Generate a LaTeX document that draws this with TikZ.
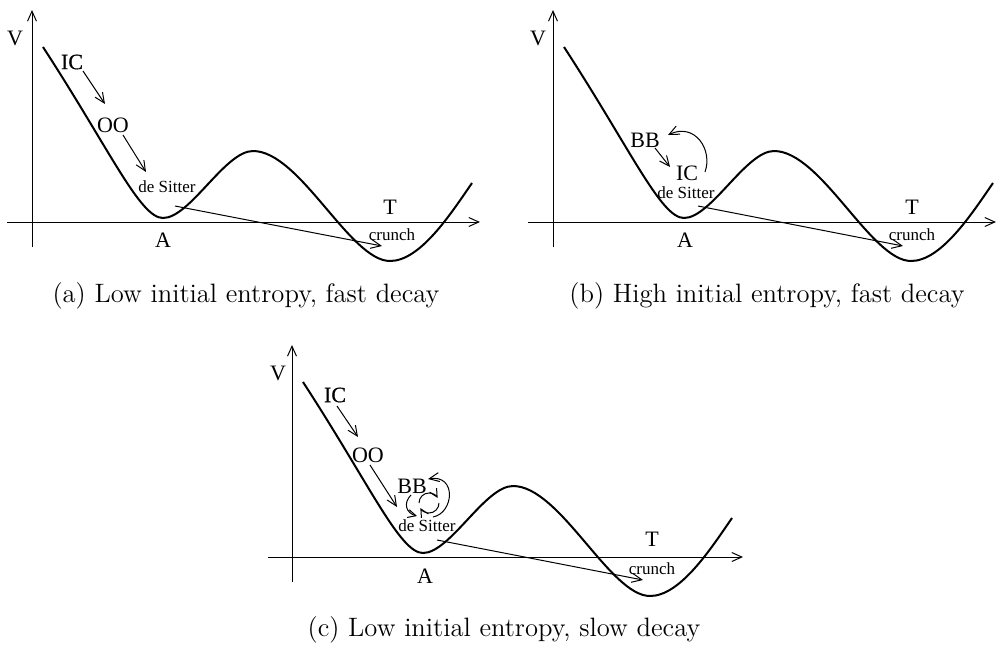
\documentclass[tikz,border=0pt]{standalone}
\usepackage{fontspec}
\newfontfamily\tms{Liberation Serif}
\newfontfamily\tmsb[FakeBold=0.6]{Liberation Serif}
\usetikzlibrary{arrows.meta,calc}
\begin{document}
\begin{tikzpicture}[x=0.5pt,y=-0.5pt,
  big/.style={font=\tms\fontsize{11}{13}\selectfont, inner sep=0pt},
  bigb/.style={font=\tmsb\fontsize{11}{13}\selectfont, inner sep=0pt},
  small/.style={font=\tms\fontsize{8.5}{10}\selectfont, inner sep=0pt},
  captext/.style={font=\fontsize{13.3}{15}\selectfont, inner sep=0pt},
  pot/.style={line width=1pt},
  axisline/.style={line width=0.5pt, -{Straight Barb[length=5pt,width=4.5pt]}},
  arr/.style={line width=0.5pt, -{Straight Barb[length=5pt,width=4.5pt]}},
  sarr/.style={line width=0.5pt, -{Straight Barb[length=4pt,width=4pt]}}]
\useasboundingbox (0,0) rectangle (997,644);
\newcommand\potential{%
  \draw[axisline] (32,247) -- (32,10);
  \draw[pot] (43,47) .. controls (110,150) and (140,218) .. (163,218)
    .. controls (190,218) and (225,151) .. (253,151)
    .. controls (300,151) and (350,261) .. (390,261)
    .. controls (420,261) and (450,215) .. (472,183);}
% ---------- panel (a)
\begin{scope}
  \potential
  \draw[axisline] (7,222) -- (480,222);
\end{scope}
\node[big] (aV) at (15,38) {V};
\node[bigb] (aIC) at (72,62) {IC};
\node[big] (aOO) at (113,125) {OO};
\node[small] (aDS) at (167,187) {de Sitter};
\node[big] (aT) at (390,207) {T};
\node[big] (aA) at (163,240) {A};
\node[small] (aCr) at (392,235) {crunch};
\draw[arr] ($(aIC)+(11,9)$) -- ($(aOO)+(-8,-21)$);
\draw[arr] ($(aOO)+(10,10)$) -- ($(aDS)+(-21,-15)$);
\draw[arr] ($(aDS)+(8,19)$) -- ($(aCr)+(-10,11)$);
\node[captext] (acap) at (246,296) {(a) Low initial entropy, fast decay};
% ---------- panel (b)
\begin{scope}[shift={(521,0)}]
  \potential
  \draw[axisline] (7,222) -- (475,222);
\end{scope}
\node[big] (bV) at (538,38) {V};
\node[big] (bBB) at (645,140) {BB};
\node[big] (bIC) at (687,173) {IC};
\node[small] (bDS) at (686,193) {de Sitter};
\node[big] (bT) at (912,207) {T};
\node[big] (bA) at (685,240) {A};
\node[small] (bCr) at (912,235) {crunch};
\draw[arr] ($(bBB)+(10,8)$) -- ($(bIC)+(-17,-6)$);
\draw[arr] ($(bIC)+(18,-1)$) .. controls (713,150) and (695,122) .. ($(bBB)+(23,-5)$);
\draw[arr] ($(bDS)+(12,13)$) -- ($(bCr)+(-9,11)$);
\node[captext] (bcap) at (767,296) {(b) High initial entropy, fast decay};
% ---------- panel (c)
\begin{scope}[shift={(260,335)}]
  \potential
  \draw[axisline] (8,222) -- (483,222);
\end{scope}
\node[big] (cV) at (278,373) {V};
\node[bigb] (cIC) at (335,395) {IC};
\node[big] (cOO) at (368,455) {OO};
\node[big] (cBB) at (412,486) {BB};
\node[small] (cDS) at (427,526) {de Sitter};
\node[big] (cT) at (652,539) {T};
\node[big] (cA) at (425,576) {A};
\node[small] (cCr) at (652,569) {crunch};
\draw[arr] ($(cIC)+(2,11)$) -- ($(cOO)+(-10,-18)$);
\draw[arr] ($(cOO)+(2,10)$) -- ($(cDS)+(-30,-19)$);
\draw[arr] ($(cDS)+(10,14)$) -- ($(cCr)+(-9,11)$);
\draw[sarr] ($(cBB)+(-1,9)$) .. controls ($(cBB)+(-9,17)$) and ($(cBB)+(-6,27)$) .. ($(cBB)+(5,30)$);
\draw[sarr] ($(cBB)+(17,17)+(180:10)$) arc[start angle=180, end angle=330, radius=10];
\draw[sarr] ($(cBB)+(17,17)+(0:10)$) arc[start angle=0, end angle=150, radius=10];
\draw[arr] ($(cDS)+(6,-9)$) .. controls (454,513) and (457,474) .. ($(cBB)+(16,-7)$);
\node[captext] (ccap) at (504,630) {(c) Low initial entropy, slow decay};
\end{tikzpicture}
\end{document}
